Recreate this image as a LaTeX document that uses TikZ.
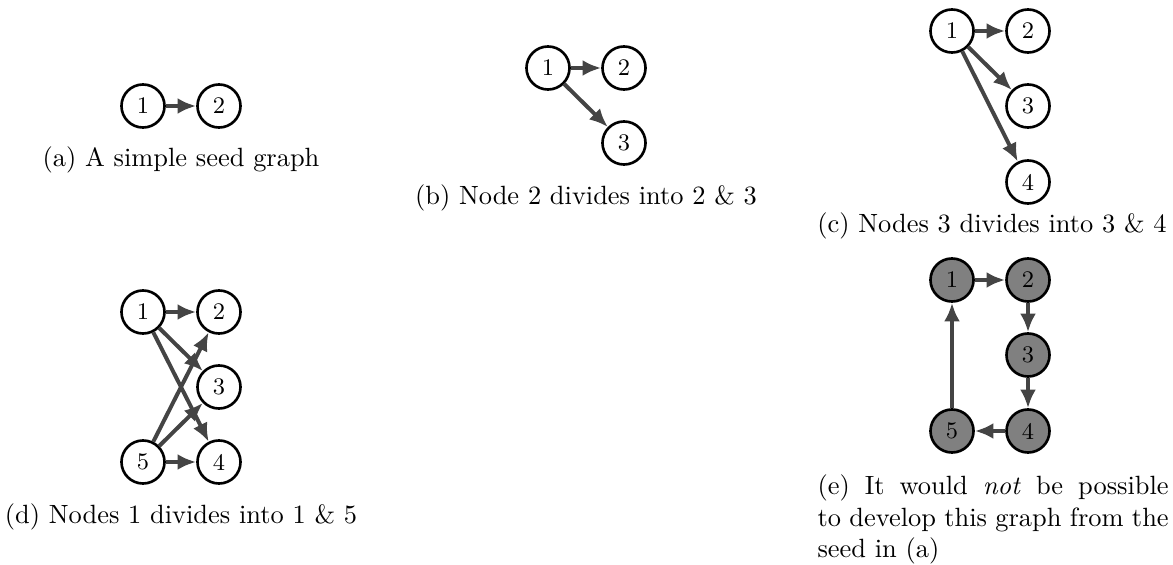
\documentclass[tikz,border=0pt]{standalone}
\usetikzlibrary{arrows.meta}
\definecolor{edgegray}{RGB}{68,68,68}
\definecolor{fillgray}{RGB}{128,128,128}
\tikzset{
  vtx/.style={circle, draw=black, line width=1pt, minimum size=16.3pt, inner sep=0pt, font=\small},
  gvtx/.style={vtx, fill=fillgray},
  edge/.style={draw=edgegray, line width=1.5pt, -{Latex[length=7pt,width=6pt]}},
  captext/.style={anchor=base, inner sep=0pt}
}
\begin{document}
\begin{tikzpicture}[x=0.3788pt, y=-0.3788pt]
\useasboundingbox (0,0) rectangle (1173,565);
% (a)
\node[vtx] (a1) at (143,106) {1};
\node[vtx] (a2) at (219,106) {2};
\draw[edge] (a1) -- (a2);
\node[captext] (capa) at (181,167) {(a) A simple seed graph};
% (b)
\node[vtx] (b1) at (548,68) {1};
\node[vtx] (b2) at (624,68) {2};
\node[vtx] (b3) at (624,143) {3};
\draw[edge] (b1) -- (b2);
\draw[edge] (b1) -- (b3);
\node[captext] (capb) at (586,205) {(b) Node 2 divides into 2 \& 3};
% (c)
\node[vtx] (c1) at (952,31) {1};
\node[vtx] (c2) at (1028,31) {2};
\node[vtx] (c3) at (1028,106) {3};
\node[vtx] (c4) at (1028,182) {4};
\draw[edge] (c1) -- (c2);
\draw[edge] (c1) -- (c3);
\draw[edge] (c1) -- (c4);
\node[captext] (capc) at (992,233) {(c) Nodes 3 divides into 3 \& 4};
% (d)
\node[vtx] (d1) at (143,312) {1};
\node[vtx] (d2) at (219,312) {2};
\node[vtx] (d3) at (219,387) {3};
\node[vtx] (d4) at (219,462) {4};
\node[vtx] (d5) at (143,462) {5};
\draw[edge] (d1) -- (d2);
\draw[edge] (d1) -- (d3);
\draw[edge] (d1) -- (d4);
\draw[edge] (d5) -- (d2);
\draw[edge] (d5) -- (d3);
\draw[edge] (d5) -- (d4);
\node[captext] (capd) at (181,523) {(d) Nodes 1 divides into 1 \& 5};
% (e)
\node[gvtx] (e1) at (952,280) {1};
\node[gvtx] (e2) at (1028,280) {2};
\node[gvtx] (e3) at (1028,355) {3};
\node[gvtx] (e4) at (1028,431) {4};
\node[gvtx] (e5) at (952,431) {5};
\draw[edge] (e1) -- (e2);
\draw[edge] (e2) -- (e3);
\draw[edge] (e3) -- (e4);
\draw[edge] (e4) -- (e5);
\draw[edge] (e5) -- (e1);
\node[anchor=north west, inner sep=0pt, text width=133pt, align=justify] (cape) at (817,474)
  {(e) It would \emph{not} be possible\linebreak to develop this graph from the\linebreak seed in (a)};
\end{tikzpicture}
\end{document}
